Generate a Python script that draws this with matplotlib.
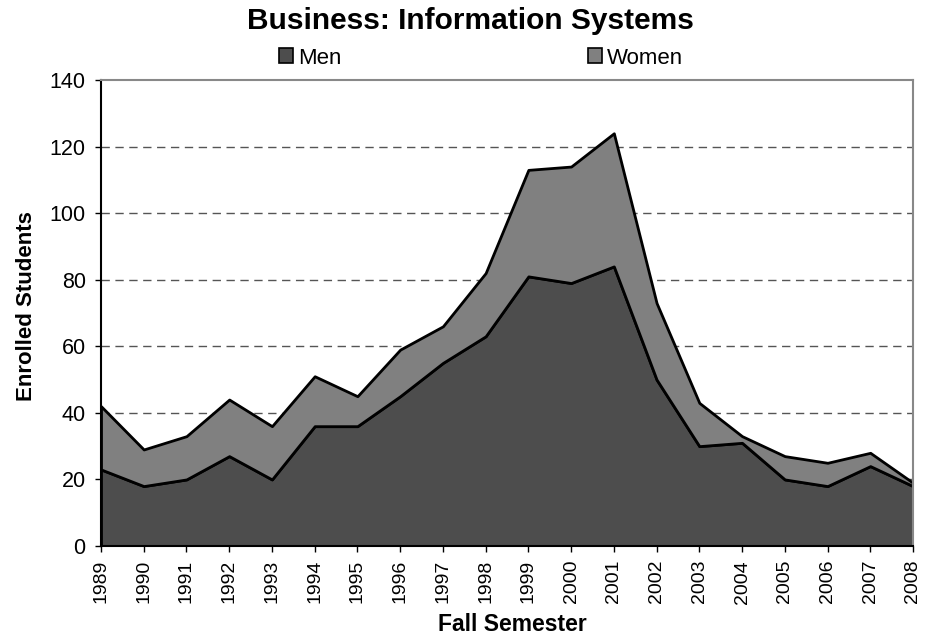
import matplotlib
matplotlib.use("Agg")
import matplotlib.pyplot as plt
from matplotlib.patches import Patch
import numpy as np

years = [1989, 1990, 1991, 1992, 1993, 1994, 1995, 1996, 1997, 1998,
         1999, 2000, 2001, 2002, 2003, 2004, 2005, 2006, 2007, 2008]
men = [23, 18, 20, 27, 20, 36, 36, 45, 55, 63, 81, 79, 84, 50, 30, 31, 20, 18, 24, 18]
total = [42, 29, 33, 44, 36, 51, 45, 59, 66, 82, 113, 114, 124, 73, 43, 33, 27, 25, 28, 19]
women = [t - m for t, m in zip(total, men)]

plt.rcParams['font.family'] = ['Liberation Sans', 'DejaVu Sans']

W, H = 938, 637
fig = plt.figure(figsize=(W/100, H/100), dpi=100)
ax = fig.add_axes([101/W, 1-546/H, (913-101)/W, (546-80)/H])

x = np.arange(len(years))
ax.stackplot(x, men, women, colors=['#4d4d4d', '#808080'],
             edgecolor='black', linewidth=2)

ax.set_xlim(0, len(years)-1)
ax.set_ylim(0, 140)
ax.set_yticks(range(0, 141, 20))
ax.set_xticks(x)
ax.set_xticklabels([str(y) for y in years], rotation=90, fontsize=14)
ax.tick_params(axis='y', labelsize=15.5, pad=7)
ax.tick_params(axis='x', pad=6)
ax.tick_params(direction='out', length=4, width=1, colors='black')
for yv in range(20, 140, 20):
    ax.axhline(yv, color='#555555', linestyle=(0, (6, 4)), linewidth=1, zorder=0)
ax.set_axisbelow(True)
for s in ['top', 'right']:
    ax.spines[s].set_color('#888888')
    ax.spines[s].set_linewidth(1.5)
for s in ['left', 'bottom']:
    ax.spines[s].set_color('black')
    ax.spines[s].set_linewidth(1.5)

ax.set_ylabel('Enrolled Students', fontsize=16, fontweight='bold')
ax.yaxis.set_label_coords((37-101)/812, (546-306)/466)
ax.set_xlabel('Fall Semester', fontsize=16.5, fontweight='bold')
ax.xaxis.set_label_coords((512-101)/812, (546-613)/466)

fig.text(470/W, 1-21/H, 'Business: Information Systems', ha='center', va='center',
         fontsize=21.5, fontweight='bold')

h_men = [Patch(facecolor='#4d4d4d', edgecolor='black', linewidth=1.2, label='Men')]
h_wom = [Patch(facecolor='#808080', edgecolor='black', linewidth=1.2, label='Women')]
for h, xpos in [(h_men, 279), (h_wom, 588)]:
    fig.legend(handles=h, loc='center left', bbox_to_anchor=(xpos/W, 1-58/H),
               frameon=False, fontsize=16, handlelength=0.62, handleheight=0.62,
               handletextpad=0.25, borderpad=0, borderaxespad=0)

fig.savefig('out.png', dpi=100)
